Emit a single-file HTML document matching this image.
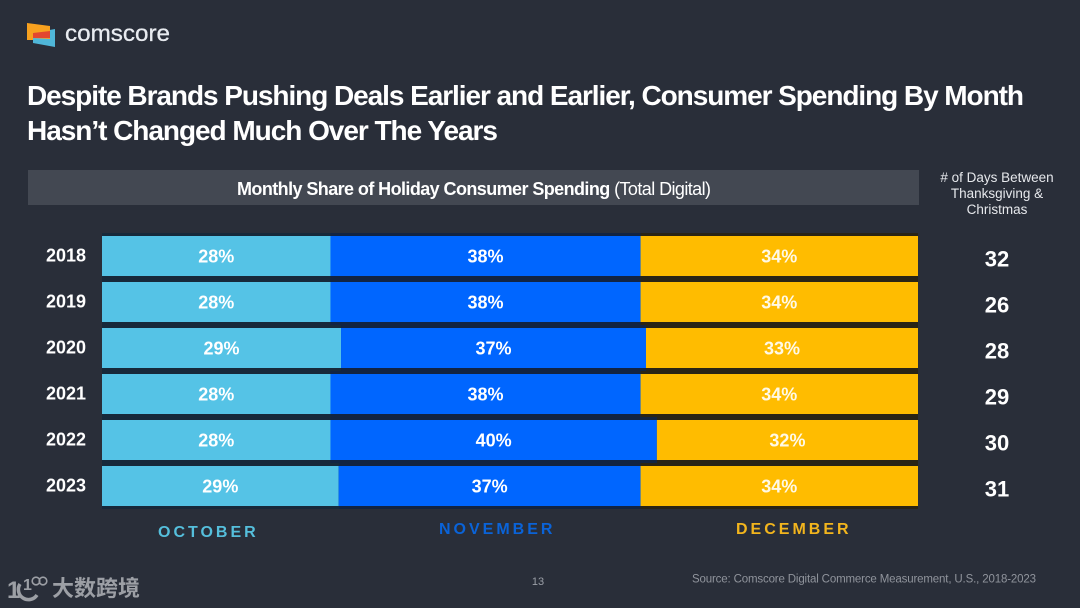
<!DOCTYPE html>
<html lang="en">
<head>
<meta charset="utf-8">
<title>Monthly Share of Holiday Consumer Spending</title>
<style>
html,body{margin:0;padding:0;background:#292e39;}
svg{display:block;font-family:"Liberation Sans","Noto Sans CJK SC",sans-serif;}
</style>
</head>
<body>
<svg id="chart" width="1080" height="608" viewBox="0 0 1080 608" xmlns="http://www.w3.org/2000/svg">
  <rect x="0" y="0" width="1080" height="608" fill="#292e39"/>

  <g>
    <polygon points="33,33 55,29 55,47 33,43" fill="#4fb6d8"/>
    <polygon points="27,23 50,26 50,39 33,38 33,40 27,40" fill="#f7a11f"/>
    <polygon points="33,33 50,31 50,38 33,38" fill="#e2472f"/>
    <text x="65" y="41" font-size="23.5" fill="#e8ebf0" stroke="#e8ebf0" stroke-width="0.3" textLength="105" lengthAdjust="spacingAndGlyphs">comscore</text>
  </g>

  <g font-size="28" font-weight="700" fill="#ffffff">
    <text x="27" y="105" textLength="997" lengthAdjust="spacing">Despite Brands Pushing Deals Earlier and Earlier, Consumer Spending By Month</text>
    <text x="27" y="140" textLength="471" lengthAdjust="spacing">Hasn’t Changed Much Over The Years</text>
  </g>

  <rect x="28" y="170" width="891" height="35" fill="#434852"/>
  <text x="237" y="195" font-size="18" fill="#ffffff" textLength="474" lengthAdjust="spacing"><tspan font-weight="700">Monthly Share of Holiday Consumer Spending</tspan> (Total Digital)</text>

  <g font-size="13.5" fill="#e6e8ec" text-anchor="middle">
    <text x="997" y="182"># of Days Between</text>
    <text x="997" y="198">Thanksgiving &amp;</text>
    <text x="997" y="214">Christmas</text>
  </g>

  <g id="rows"></g>

  <g font-size="16" font-weight="700">
    <text x="158" y="537" fill="#55bfdc" letter-spacing="3">OCTOBER</text>
    <text x="439" y="534" fill="#0a63d8" letter-spacing="3">NOVEMBER</text>
    <text x="736" y="534" fill="#f2b51d" letter-spacing="3">DECEMBER</text>
  </g>

  <text x="538" y="585" font-size="11" fill="#9a9ea6" text-anchor="middle">13</text>
  <text x="692" y="582.5" font-size="11.5" fill="#90949c" textLength="344" lengthAdjust="spacing">Source: Comscore Digital Commerce Measurement, U.S., 2018-2023</text>

  <g fill="#9c9fa5">
    <g>
      <text x="7" y="598" font-size="24" font-weight="700">1</text>
      <path d="M20 584 A10 10 0 0 0 37 595" fill="none" stroke="#9c9fa5" stroke-width="3.5"/>
      <text x="23" y="590" font-size="16" font-weight="700">1</text>
      <circle cx="36" cy="581" r="3.8" fill="none" stroke="#9c9fa5" stroke-width="1.6"/>
      <circle cx="43" cy="581" r="3.8" fill="none" stroke="#9c9fa5" stroke-width="1.6"/>
    </g>
    <text x="52" y="596" font-size="22" font-weight="700">大数跨境</text>
  </g>
</svg>
<script>
const years = ['2018', '2019', '2020', '2021', '2022', '2023'];
const october = [28, 28, 29, 28, 28, 29];
const november = [38, 38, 37, 38, 40, 37];
const december = [34, 34, 33, 34, 32, 34];
const daysBetween = [32, 26, 28, 29, 30, 31];

const SVG_NS = 'http://www.w3.org/2000/svg';
const plotLeft = 102;
const plotRight = 918;
const rowTop = 236;
const rowStep = 46;
const barHeight = 40;
const rowsGroup = document.getElementById('rows');

function shareToX(share) {
  return plotLeft + (plotRight - plotLeft) * share;
}
function rowToY(i) {
  return rowTop + rowStep * i;
}

const segments = [
  { name: 'october', values: october, fill: '#55c3e6', gap: '#17293a' },
  { name: 'november', values: november, fill: '#0066ff', gap: '#122442' },
  { name: 'december', values: december, fill: '#ffbc00', gap: '#2a2415' }
];

years.forEach(function (year, i) {
  const y = rowToY(i);
  const total = october[i] + november[i] + december[i];

  const yearLabel = document.createElementNS(SVG_NS, 'text');
  
  
  yearLabel.setAttribute('x', 66);
  yearLabel.setAttribute('y', y + 25.5);
  yearLabel.setAttribute('font-size', 18);
  yearLabel.setAttribute('font-weight', 700);
  yearLabel.setAttribute('fill', '#ffffff');
  yearLabel.setAttribute('text-anchor', 'middle');
  yearLabel.textContent = year;
  rowsGroup.appendChild(yearLabel);

  let running = 0;
  segments.forEach(function (seg) {
    const value = seg.values[i];
    const x0 = shareToX(running / total);
    const x1 = shareToX((running + value) / total);
    running += value;

    const halo = document.createElementNS(SVG_NS, 'rect');
    
    
    halo.setAttribute('x', x0);
    halo.setAttribute('y', y - 3);
    halo.setAttribute('width', x1 - x0);
    halo.setAttribute('height', barHeight + 6);
    halo.setAttribute('fill', seg.gap);
    rowsGroup.insertBefore(halo, rowsGroup.firstChild);

    const bar = document.createElementNS(SVG_NS, 'rect');
    
    
    bar.setAttribute('x', x0);
    bar.setAttribute('y', y);
    bar.setAttribute('width', x1 - x0);
    bar.setAttribute('height', barHeight);
    bar.setAttribute('fill', seg.fill);
    rowsGroup.appendChild(bar);

    const label = document.createElementNS(SVG_NS, 'text');
    
    
    label.setAttribute('x', (x0 + x1) / 2);
    label.setAttribute('y', y + 26.5);
    label.setAttribute('font-size', 18);
    label.setAttribute('font-weight', 700);
    label.setAttribute('fill', '#ffffff');
    label.setAttribute('fill-opacity', seg.name === 'december' ? 0.9 : 1);
    label.setAttribute('text-anchor', 'middle');
    label.textContent = value + '%';
    rowsGroup.appendChild(label);
  });

  const days = document.createElementNS(SVG_NS, 'text');
  
  
  days.setAttribute('x', 997);
  days.setAttribute('y', y + 30.5);
  days.setAttribute('font-size', 22);
  days.setAttribute('font-weight', 700);
  days.setAttribute('fill', '#ffffff');
  days.setAttribute('text-anchor', 'middle');
  days.textContent = daysBetween[i];
  rowsGroup.appendChild(days);
});
</script>
</body>
</html>
